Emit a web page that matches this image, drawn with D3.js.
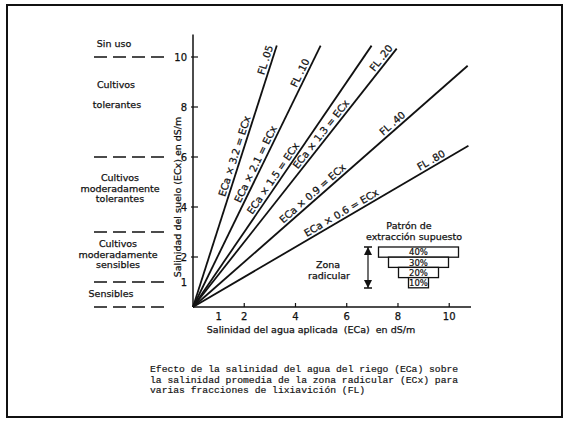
<!DOCTYPE html>
<html>
<head>
<meta charset="UTF-8">
<title>Salinidad ECa vs ECx</title>
<style>
  body { margin: 0; background: #fff; }
  text { font-family: "DejaVu Sans", sans-serif; fill: #111; }
  .lab { font-size: 9.5px; stroke: #111; stroke-width: 0.25px; }
  .rot { font-size: 10px; stroke: #111; stroke-width: 0.25px; }
  .small { font-size: 8.5px; stroke: #111; stroke-width: 0.2px; }
  .tick-label { font-size: 10px; stroke: #111; stroke-width: 0.25px; }
  .caption { font-family: "Liberation Mono", monospace; font-size: 9.7px; stroke: #222; stroke-width: 0.2px; }
</style>
<script src="https://d3js.org/d3.v7.min.js"></script>
</head>
<body>
<div id="chart"></div>
<script>
// leaching lines: ECx = ECa * factor
const factors = [3.2, 2.1, 1.5, 1.3, 0.9, 0.6];
const flLabels = ["FL .05", "FL .10", "", "FL .20", "FL .40", "FL .80"];
const lineEndECa = [3.27, 4.98, 6.97, 7.95, 10.72, 10.75];
const eqLabelAt = [5.95, 5.6, 5.0, 6.75, 4.35, 3.55];   // ECx where equation label sits
const flLabelAt = [9.8, 9.25, null, 9.8, 7.15, 5.65];
const xTicks = [2, 4, 6, 8, 10];
const xTickLabels = [1, 2, 4, 6, 8, 10];
const yTicks = [2, 4, 6, 8, 10];
const yTickLabels = [1, 2, 4, 6, 8, 10];
const zoneBounds = [10, 6, 3, 1, 0];
const zoneNames = [
  ["Sin uso"],
  ["Cultivos", "tolerantes"],
  ["Cultivos", "moderadamente", "tolerantes"],
  ["Cultivos", "moderadamente", "sensibles"],
  ["Sensibles"]
];
const extraction = [40, 30, 20, 10];
const captionLines = [
  "Efecto de la salinidad del agua del riego (ECa) sobre",
  "la salinidad promedia de la zona radicular (ECx) para",
  "varias fracciones de lixiavición (FL)"
];

const W = 565, H = 426;
const svg = d3.select("#chart").append("svg")
  .attr("width", W).attr("height", H);

svg.append("rect")
  .attr("x", 7).attr("y", 5).attr("width", 555).attr("height", 412)
  .attr("fill", "none").attr("stroke", "#111").attr("stroke-width", 2);

const x = d3.scaleLinear().domain([0, 10.85]).range([193, 471]);
const y = d3.scaleLinear().domain([0, 10.9]).range([307, 34.5]);

// axes
svg.append("line").attr("x1", x(0)).attr("x2", x(10.85)).attr("y1", y(0)).attr("y2", y(0))
  .attr("stroke", "#111").attr("stroke-width", 1.5);
svg.append("line").attr("x1", x(0)).attr("x2", x(0)).attr("y1", y(0)).attr("y2", y(10.9))
  .attr("stroke", "#111").attr("stroke-width", 1.5);

svg.selectAll(".xt").data(xTicks).enter().append("line")
  .attr("x1", d => x(d)).attr("x2", d => x(d))
  .attr("y1", y(0)).attr("y2", y(0) - 4)
  .attr("stroke", "#111").attr("stroke-width", 1.2);
svg.selectAll(".xtl").data(xTickLabels).enter().append("text")
  .attr("class", "tick-label")
  .attr("x", d => x(d)).attr("y", y(0) + 13)
  .attr("text-anchor", "middle").text(d => d);

svg.selectAll(".yt").data(yTicks).enter().append("line")
  .attr("x1", x(0) - 2).attr("x2", x(0) + 5)
  .attr("y1", d => y(d)).attr("y2", d => y(d))
  .attr("stroke", "#111").attr("stroke-width", 1.2);
svg.selectAll(".ytl").data(yTickLabels).enter().append("text")
  .attr("class", "tick-label")
  .attr("x", x(0) - 6).attr("y", d => y(d) + 3.5)
  .attr("text-anchor", "end").text(d => d);

svg.append("text").attr("class", "lab")
  .attr("x", 311).attr("y", y(0) + 26)
  .attr("text-anchor", "middle")
  .attr("xml:space", "preserve")
  .text("Salinidad del agua aplicada  (ECa)  en dS/m");
svg.append("text").attr("class", "lab")
  .attr("transform", `translate(${x(0) - 12},${y(4.4)}) rotate(-90)`)
  .attr("text-anchor", "middle")
  .text("Salinidad del suelo (ECx) en dS/m");

// leaching fraction lines
const angle = f => Math.atan2(y(0) - y(f), x(1) - x(0)) * 180 / Math.PI;
svg.selectAll(".fl").data(factors).enter().append("line")
  .attr("x1", x(0)).attr("y1", y(0))
  .attr("x2", (d, i) => x(lineEndECa[i]))
  .attr("y2", (d, i) => y(lineEndECa[i] * d))
  .attr("stroke", "#111").attr("stroke-width", 1.8);

factors.forEach((f, i) => {
  const a = angle(f);
  const ex = eqLabelAt[i];
  svg.append("text").attr("class", "rot")
    .attr("transform", `translate(${x(ex / f)},${y(ex)}) rotate(${-a}) translate(0,-3)`)
    .attr("text-anchor", "middle")
    .text(`ECa × ${f} = ECx`);
  if (flLabels[i]) {
    const fx = flLabelAt[i];
    svg.append("text").attr("class", "rot")
      .attr("transform", `translate(${x(fx / f)},${y(fx)}) rotate(${-a}) translate(0,-3)`)
      .attr("text-anchor", "middle")
      .text(flLabels[i]);
  }
});

// zones on the left
svg.selectAll(".zb").data(zoneBounds).enter().append("line")
  .attr("x1", 94).attr("x2", 166)
  .attr("y1", d => y(d)).attr("y2", d => y(d))
  .attr("stroke", "#111").attr("stroke-width", 1.5)
  .attr("stroke-dasharray", "13,6");

const zoneText = [
  [[114, 44]],
  [[116, 85], [117, 105]],
  [[120, 178], [120, 189], [120, 199]],
  [[118, 244], [118, 255], [118, 265]],
  [[111, 294]]
];
zoneNames.forEach((lines, i) => {
  lines.forEach((t, j) => {
    svg.append("text").attr("class", "lab")
      .attr("x", zoneText[i][j][0]).attr("y", zoneText[i][j][1] + 3.3)
      .attr("text-anchor", "middle").text(t);
  });
});

// extraction pattern inset
const w = d3.scaleLinear().domain([0, 40]).range([0, 80]);
const boxCx = 418.5, boxTop = 247, bh = 10.2;
svg.append("text").attr("class", "lab").attr("x", 409).attr("y", 229)
  .attr("text-anchor", "middle").text("Patrón de");
svg.append("text").attr("class", "lab").attr("x", 414).attr("y", 240)
  .attr("text-anchor", "middle").text("extracción supuesto");
extraction.forEach((p, i) => {
  svg.append("rect")
    .attr("x", boxCx - w(p) / 2).attr("y", boxTop + i * bh)
    .attr("width", w(p)).attr("height", bh)
    .attr("fill", "#fff").attr("stroke", "#111").attr("stroke-width", 1.3);
  svg.append("text").attr("class", "small")
    .attr("x", boxCx).attr("y", boxTop + i * bh + 8.3)
    .attr("text-anchor", "middle").text(p + "%");
});

const ax = 368, ay1 = 247, ay2 = 288;
svg.append("line").attr("x1", ax).attr("x2", ax).attr("y1", ay1).attr("y2", ay2)
  .attr("stroke", "#111").attr("stroke-width", 1.2);
svg.append("path").attr("d", `M${ax - 4},${ay1}H${ax + 4}M${ax - 4},${ay2}H${ax + 4}`)
  .attr("stroke", "#111").attr("stroke-width", 1.4);
svg.append("path")
  .attr("d", `M${ax},${ay1}L${ax - 4},${ay1 + 8}L${ax + 4},${ay1 + 8}Z M${ax},${ay2}L${ax - 4},${ay2 - 8}L${ax + 4},${ay2 - 8}Z`)
  .attr("fill", "#111");
svg.append("text").attr("class", "lab").attr("x", 328).attr("y", 268)
  .attr("text-anchor", "middle").text("Zona");
svg.append("text").attr("class", "lab").attr("x", 329).attr("y", 279)
  .attr("text-anchor", "middle").text("radicular");

// caption
svg.selectAll(".cap").data(captionLines).enter().append("text")
  .attr("class", "caption")
  .attr("x", 150).attr("y", (d, i) => 372 + i * 10.7)
  .attr("xml:space", "preserve")
  .text(d => d);
</script>
</body>
</html>
